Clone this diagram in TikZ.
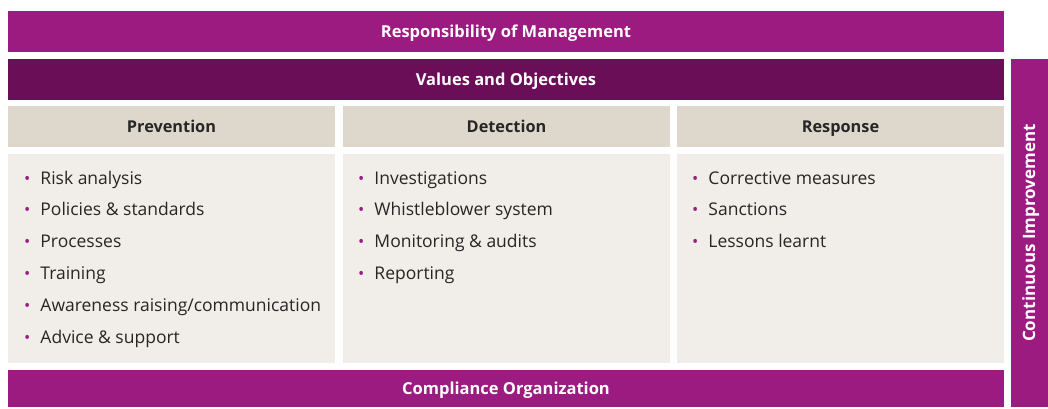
\documentclass[tikz,border=0pt]{standalone}
\usepackage{fontspec}
\setmainfont{Open Sans}[Ligatures=NoCommon]
\begin{document}
\definecolor{mgmt}{HTML}{9B1B80}
\definecolor{values}{HTML}{6B0E58}
\definecolor{headbg}{HTML}{DED8CC}
\definecolor{bodybg}{HTML}{F1EEE9}
\definecolor{ink}{HTML}{262626}
\definecolor{dot}{HTML}{9B1B80}
\newcommand\dotitem{{\color{dot}\scalebox{0.95}{\textbullet}}}
\begin{tikzpicture}[x=1pt,y=-1pt,
  band/.style={inner sep=0pt, outer sep=0pt, text=white,
    text height=12pt, text depth=0pt,
    font=\fontsize{16.5}{18}\selectfont\bfseries},
  colhead/.style={fill=headbg, inner sep=0pt, outer sep=0pt, text=ink,
    minimum width=327, minimum height=41, text height=12pt, text depth=0pt,
    font=\fontsize{16.3}{18}\selectfont\bfseries},
  colbody/.style={fill=bodybg, inner sep=0pt, outer sep=0pt,
    minimum width=327, minimum height=209},
  listitem/.style={anchor=west, inner sep=0pt, text=ink,
    text height=13pt, text depth=1pt,
    font=\fontsize{17.5}{20}\selectfont}]
  \useasboundingbox (0,0) rectangle (1048,408);

  % horizontal bands
  \node[band, fill=mgmt, minimum width=996, minimum height=41]
    (mgmt) at (506,31.5) {Responsibility of Management};
  \node[band, fill=values, minimum width=996, minimum height=41]
    (values) at (506,79.5) {Values and Objectives};
  \node[band, fill=mgmt, minimum width=996, minimum height=37]
    (org) at (506,388.5) {Compliance Organization};

  % vertical band
  \node[band, fill=mgmt, minimum width=37, minimum height=348]
    (improve) at (1029,233) {};
  \node[band, rotate=90, font=\fontsize{17}{19}\selectfont\bfseries]
    (improvetext) at (improve.center) {Continuous Improvement};

  % column headers
  \node[colhead] (prevh) at (171.5,126.5) {Prevention};
  \node[colhead] (deth)  at (506.5,126.5) {Detection};
  \node[colhead] (resph) at (840.5,126.5) {Response};

  % column bodies
  \node[colbody] (prevb) at (171.5,258.5) {};
  \node[colbody] (detb)  at (506.5,258.5) {};
  \node[colbody] (respb) at (840.5,258.5) {};

  % bullet lists
  \foreach \txt [count=\i from 0] in {Risk analysis, Policies \& standards,
      Processes, Training, Awareness raising/communication, Advice \& support}
    \node[listitem] (p\i) at (24,178+31.8*\i) {\dotitem\hspace{10pt}\txt};
  \foreach \txt [count=\i from 0] in {Investigations, Whistleblower system,
      Monitoring \& audits, Reporting}
    \node[listitem] (d\i) at (358,178+31.8*\i) {\dotitem\hspace{10pt}\txt};
  \foreach \txt [count=\i from 0] in {Corrective measures, Sanctions,
      Lessons learnt}
    \node[listitem] (r\i) at (692,178+31.8*\i) {\dotitem\hspace{10pt}\txt};
\end{tikzpicture}
\end{document}
